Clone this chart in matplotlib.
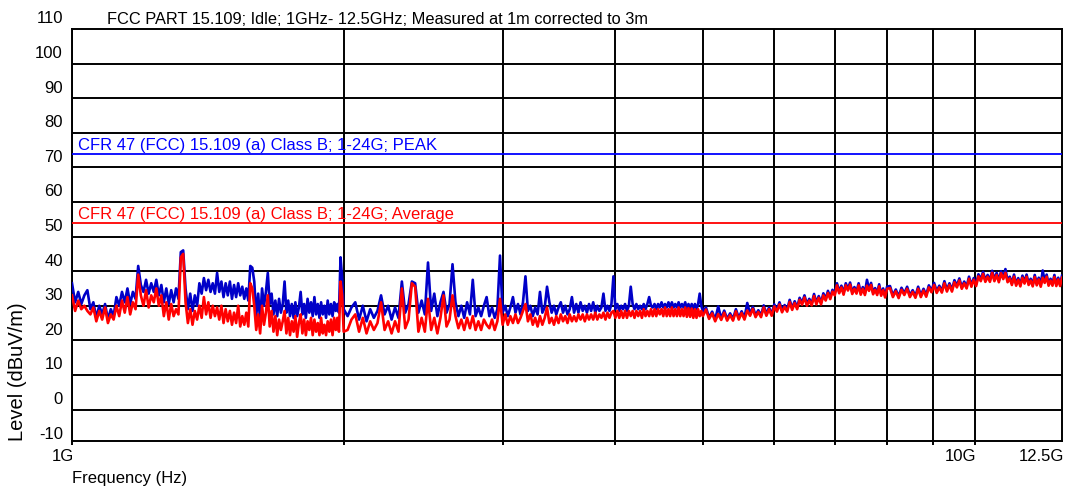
import matplotlib.pyplot as plt
import matplotlib.transforms as mtransforms
import numpy as np

plt.rcParams['font.family'] = ['Liberation Sans', 'DejaVu Sans']

# sweep 1 - 2 GHz, MHz
freq_a = [1000, 1008, 1016, 1024, 1032, 1040, 1048, 1056, 1064, 1072,
          1080, 1088, 1096, 1104, 1112, 1120, 1128, 1136, 1144, 1152,
          1160, 1168, 1176, 1184, 1192, 1200, 1208, 1216, 1224, 1232,
          1240, 1248, 1256, 1264, 1272, 1280, 1288, 1296, 1304, 1312,
          1320, 1328, 1336, 1344, 1352, 1360, 1368, 1376, 1384, 1392,
          1400, 1408, 1416, 1424, 1432, 1440, 1448, 1456, 1464, 1472,
          1480, 1488, 1496, 1504, 1512, 1520, 1528, 1536, 1544, 1552,
          1560, 1568, 1576, 1584, 1592, 1600, 1608, 1616, 1624, 1632,
          1640, 1648, 1656, 1664, 1672, 1680, 1688, 1696, 1704, 1712,
          1720, 1728, 1736, 1744, 1752, 1760, 1768, 1776, 1784, 1792,
          1800, 1808, 1816, 1824, 1832, 1840, 1848, 1856, 1864, 1872,
          1880, 1888, 1896, 1904, 1912, 1920, 1928, 1936, 1944, 1952,
          1960, 1968, 1976, 1984, 1992, 2000]
peak_a = [36.5, 31, 34, 30.5, 33, 34.5, 29, 31, 26.5, 30,
          27.5, 30.5, 26, 29, 27, 32.5, 30, 34, 31, 35,
          30.5, 34, 32, 41.5, 36, 34, 37.5, 33.5, 36.5, 34,
          37.5, 33, 36, 31, 35, 30.5, 34.5, 31, 35, 32,
          45.5, 46, 35, 29, 33.5, 28.5, 33, 30, 36.5, 33.5,
          38, 34.5, 37.5, 34, 36.5, 33.5, 39.5, 34, 37, 32.5,
          36.5, 33, 37, 32, 36, 32.5, 36.5, 33, 35.5, 32,
          35, 31.5, 41.5, 41, 37, 27, 33.5, 25.5, 35, 30,
          34, 39.5, 30.5, 33.5, 27.5, 31.5, 27, 32, 28, 30.5,
          37, 28, 31.5, 27, 30.5, 26.5, 31, 27, 29.5, 34,
          27.5, 30.5, 26.5, 32, 28, 31, 27, 32.5, 27.5, 30.5,
          26.5, 31, 27.5, 30, 26.5, 31.5, 27.5, 30.5, 27, 31,
          28.5, 30.5, 28, 44, 38, 29]
avg_a = [33, 28.5, 31.5, 29, 30, 28.5, 27.5, 29.5, 25.5, 28.5,
         26, 29.5, 25, 27.5, 26, 30, 27, 31.5, 28, 32.5,
         27.5, 31, 29, 39, 33, 30, 34.5, 29.5, 33, 31,
         35, 30, 33, 27, 31, 26, 30.5, 27, 29, 27.5,
         44, 45, 31, 25, 29, 24.5, 28.5, 26, 30, 26.5,
         32.5, 27.5, 31, 26.5, 30, 27, 29.5, 26, 30, 25,
         29, 25.5, 28.5, 24.5, 28, 25, 30, 24, 27, 24.5,
         28, 24, 36.5, 35, 30, 23, 27.5, 22, 30, 24.5,
         28, 33, 24, 28.5, 22.5, 27, 21.5, 26, 23, 25.5,
         28.5, 22, 26.5, 21.5, 25.5, 22.5, 27, 21, 25, 27.5,
         22, 26, 21.5, 25.5, 23, 26.5, 21.5, 26, 22.5, 25,
         21.5, 26.5, 22, 24.5, 21.5, 25.5, 22.5, 26, 21.5, 26.5,
         23, 26.5, 22.5, 37, 33, 22.5]

# sweep 2 - 5 GHz, MHz
freq_b = [2020, 2040, 2060, 2080, 2100, 2120, 2140, 2160, 2180, 2200,
          2220, 2240, 2260, 2280, 2300, 2320, 2340, 2360, 2380, 2400,
          2420, 2440, 2460, 2480, 2500, 2520, 2540, 2560, 2580, 2600,
          2620, 2640, 2660, 2680, 2700, 2720, 2740, 2760, 2780, 2800,
          2820, 2840, 2860, 2880, 2900, 2920, 2940, 2960, 2980, 3000,
          3020, 3040, 3060, 3080, 3100, 3120, 3140, 3160, 3180, 3200,
          3220, 3240, 3260, 3280, 3300, 3320, 3340, 3360, 3380, 3400,
          3420, 3440, 3460, 3480, 3500, 3520, 3540, 3560, 3580, 3600,
          3620, 3640, 3660, 3680, 3700, 3720, 3740, 3760, 3780, 3800,
          3820, 3840, 3860, 3880, 3900, 3920, 3940, 3960, 3980, 4000,
          4020, 4040, 4060, 4080, 4100, 4120, 4140, 4160, 4180, 4200,
          4220, 4240, 4260, 4280, 4300, 4320, 4340, 4360, 4380, 4400,
          4420, 4440, 4460, 4480, 4500, 4520, 4540, 4560, 4580, 4600,
          4620, 4640, 4660, 4680, 4700, 4720, 4740, 4760, 4780, 4800,
          4820, 4840, 4860, 4880, 4900, 4920, 4940, 4960, 4980, 5000]
peak_b = [27, 29.5, 31, 26, 30, 25.5, 29, 26.5, 28.5, 33,
          27.5, 30, 26, 29.5, 26.5, 37, 28, 30.5, 37, 36.5,
          28, 31.5, 27.5, 42.5, 28.5, 33.5, 27, 31, 34, 28,
          30.5, 42, 31, 27, 30, 26.5, 31, 27.5, 37.5, 27,
          29.5, 27, 30, 32.5, 27, 29.5, 26.5, 29, 44.5, 28,
          30, 27, 29.5, 32.5, 28, 30.5, 27.5, 31, 38.5, 28.5,
          30, 27, 29.5, 27.5, 34, 28, 29.5, 35.5, 31, 28,
          30, 27.5, 29.5, 31, 28, 30, 27.5, 29, 32.5, 28,
          30.5, 28, 31, 28.5, 30, 28, 30.5, 28.5, 31, 28,
          30, 28.5, 29.5, 33.5, 28.5, 30, 28.5, 30.5, 38.5, 29,
          30.5, 28.5, 30, 29, 30.5, 28.5, 30, 35.5, 30.5, 29,
          30.5, 29, 30, 29, 30.5, 29, 30.5, 32.5, 30, 29.5,
          30.5, 29, 30.5, 29.5, 31, 29.5, 30.5, 29.5, 31, 29.5,
          31, 29.5, 30.5, 29.5, 31, 29.5, 30.5, 29.5, 31, 29,
          30.5, 29, 30.5, 29, 30.5, 29, 30.5, 33.5, 30, 28.5]
avg_b = [23, 26, 27.5, 22.5, 26.5, 22, 25.5, 23, 25, 31,
         23, 25.5, 22, 25.5, 22.5, 35, 23.5, 26, 36.5, 35.5,
         22.5, 26.5, 22.5, 32, 23, 26.5, 22, 26.5, 33, 24,
         26, 33, 27, 23.5, 26, 23, 26.5, 23.5, 27, 23,
         25.5, 23, 26, 24.5, 23.5, 26, 23, 25.5, 32, 24.5,
         27.5, 24.5, 27, 25, 27.5, 25, 26.5, 28.5, 30.5, 25.5,
         27.5, 24.5, 26.5, 24, 27, 24.5, 26.5, 29.5, 25, 26.5,
         24.5, 27, 25, 27.5, 25.5, 27, 25, 27.5, 25.5, 27,
         25.5, 27.5, 26, 27.5, 25.5, 27.5, 26, 27.5, 26, 28,
         26, 27.5, 26.5, 28, 26, 28, 26.5, 28, 28.5, 26.5,
         28.5, 26.5, 28.5, 26.5, 28.5, 26.5, 28.5, 27, 28.5, 26.5,
         28.5, 27, 28.5, 26.5, 29, 27, 28.5, 27, 29, 27,
         29, 27, 29, 27.5, 29, 27, 29.5, 27, 29, 27,
         29.5, 27, 29, 27, 29.5, 27, 29, 27, 29.5, 26.8,
         29.3, 26.8, 29.2, 26.5, 29, 26.5, 29, 27, 28.5, 27]

# sweep 5 - 8 GHz, MHz
freq_c = [5040, 5080, 5120, 5160, 5200, 5240, 5280, 5320, 5360, 5400,
          5440, 5480, 5520, 5560, 5600, 5640, 5680, 5720, 5760, 5800,
          5840, 5880, 5920, 5960, 6000, 6040, 6080, 6120, 6160, 6200,
          6240, 6280, 6320, 6360, 6400, 6440, 6480, 6520, 6560, 6600,
          6640, 6680, 6720, 6760, 6800, 6840, 6880, 6920, 6960, 7000,
          7040, 7080, 7120, 7160, 7200, 7240, 7280, 7320, 7360, 7400,
          7440, 7480, 7520, 7560, 7600, 7640, 7680, 7720, 7760, 7800,
          7840, 7880, 7920, 7960, 8000]
peak_c = [29.5, 26.6, 28.3, 26.0, 29.8, 26.3, 28.6, 26.2, 27.8, 26.2,
          29.0, 26.5, 28.4, 26.5, 30.8, 27.6, 29.7, 27.2, 28.7, 27.2,
          30.1, 27.6, 29.5, 27.6, 30.4, 28.8, 31.0, 28.6, 30.2, 28.8,
          31.7, 29.3, 31.3, 29.5, 32.3, 30.8, 33.0, 30.5, 32.0, 30.6,
          33.4, 30.9, 32.8, 30.9, 33.6, 32.0, 34.3, 32.4, 34.6, 33.5,
          36.5, 34.1, 35.8, 33.7, 36.5, 34.9, 36.7, 33.9, 35.4, 34.0,
          36.5, 33.7, 35.4, 33.6, 37.5, 34.8, 36.6, 33.8, 35.1, 33.6,
          36.2, 33.4, 35.0, 32.9, 35.5]
avg_c = [28.9, 26.2, 27.8, 25.5, 27.6, 25.9, 28.0, 25.7, 27.3, 25.7,
         28.4, 26.0, 27.9, 26.0, 28.6, 27.1, 29.1, 26.7, 28.2, 26.7,
         29.5, 27.1, 29.0, 27.1, 29.8, 28.3, 30.4, 28.1, 29.7, 28.3,
         31.1, 28.8, 30.8, 29.0, 31.7, 30.3, 32.4, 30.0, 31.5, 30.1,
         32.8, 30.4, 32.3, 30.4, 33.0, 31.5, 33.7, 31.9, 34.1, 33.0,
         35.9, 33.6, 35.3, 33.2, 35.9, 34.4, 36.1, 33.4, 34.9, 33.5,
         35.9, 33.2, 34.9, 33.1, 35.8, 34.3, 36.0, 33.3, 34.6, 33.1,
         35.6, 32.9, 34.5, 32.4, 34.9]

# sweep 8 - 12.5 GHz, MHz
freq_d = [8060, 8120, 8180, 8240, 8300, 8360, 8420, 8480, 8540, 8600,
          8660, 8720, 8780, 8840, 8900, 8960, 9020, 9080, 9140, 9200,
          9260, 9320, 9380, 9440, 9500, 9560, 9620, 9680, 9740, 9800,
          9860, 9920, 9980, 10040, 10100, 10160, 10220, 10280, 10340, 10400,
          10460, 10520, 10580, 10640, 10700, 10760, 10820, 10880, 10940, 11000,
          11060, 11120, 11180, 11240, 11300, 11360, 11420, 11480, 11540, 11600,
          11660, 11720, 11780, 11840, 11900, 11960, 12020, 12080, 12140, 12200,
          12260, 12320, 12380, 12440, 12500]
peak_d = [35.7, 33.0, 34.7, 32.7, 35.2, 33.6, 35.5, 33.0, 34.5, 32.8,
          35.5, 33.0, 34.9, 33.1, 35.9, 34.4, 36.6, 34.2, 35.8, 34.3,
          37.1, 34.6, 36.5, 34.6, 37.4, 35.8, 37.9, 35.4, 37.0, 35.5,
          38.4, 36.0, 38.0, 36.2, 39.1, 37.6, 39.8, 37.4, 38.9, 37.4,
          40.1, 37.6, 39.5, 37.3, 40.0, 38.2, 40.6, 37.3, 38.4, 36.5,
          39.0, 36.3, 38.0, 36.1, 38.7, 36.9, 39.0, 36.5, 37.8, 36.1,
          38.9, 36.4, 38.1, 36.0, 40.2, 37.1, 39.0, 36.3, 37.8, 36.3,
          38.9, 36.2, 38.1, 36.2, 38.7]
avg_d = [35.1, 32.5, 34.2, 32.2, 34.6, 33.1, 34.9, 32.5, 34.0, 32.3,
         34.9, 32.5, 34.4, 32.6, 35.3, 33.9, 36.0, 33.7, 35.3, 33.8,
         36.5, 34.1, 36.0, 34.1, 36.8, 35.3, 37.3, 34.9, 36.5, 35.0,
         37.8, 35.5, 37.5, 35.7, 38.5, 37.1, 39.2, 36.9, 38.4, 36.9,
         39.5, 37.1, 38.9, 36.8, 39.4, 37.7, 39.5, 36.8, 37.9, 36.0,
         38.4, 35.8, 37.5, 35.6, 38.1, 36.4, 38.4, 36.0, 37.3, 35.6,
         38.3, 35.9, 37.6, 35.5, 38.1, 36.6, 38.4, 35.8, 37.3, 35.8,
         38.3, 35.7, 37.6, 35.7, 38.1]

limit_peak = 74
limit_avg = 54
y_labels = [110, 100, 90, 80, 70, 60, 50, 40, 30, 20, 10, 0, -10]

freq_hz = np.array(freq_a + freq_b + freq_c + freq_d) * 1e6
peak = np.array(peak_a + peak_b + peak_c + peak_d)
avg = np.array(avg_a + avg_b + avg_c + avg_d)

FS = 12
W, H = 1075, 490
fig = plt.figure(figsize=(W / 100, H / 100), dpi=100)
ax = fig.add_axes([72 / W, 49 / H, 990 / W, 412 / H])
ax.set_xscale('log')
ax.set_xlim(1e9, 12.5e9)
ax.set_ylim(-9.1, 110)

# grid: every 10 dB, every GHz up to 10G
ax.set_yticks(range(0, 110, 10))
ax.set_xticks([k * 1e9 for k in range(1, 11)])
ax.xaxis.set_minor_locator(plt.NullLocator())
ax.tick_params(axis='y', length=0, labelleft=False)
ax.tick_params(axis='x', direction='out', length=3, width=1.4,
               labelbottom=False)
ax.grid(True, color='black', lw=1.4)
for s in ax.spines.values():
    s.set_linewidth(1.4)

# limit lines
ax.axhline(limit_peak, color='#0000ff', lw=1.3, zorder=3)
ax.axhline(limit_avg, color='#ff0000', lw=1.3, zorder=3)
lim_tr = mtransforms.offset_copy(
    mtransforms.blended_transform_factory(ax.transAxes, ax.transData),
    fig=fig, x=6, y=1, units='dots')
ax.text(0, limit_peak, 'CFR 47 (FCC) 15.109 (a) Class B; 1-24G; PEAK',
        color='#0000ff', fontsize=FS, va='bottom', ha='left', transform=lim_tr)
ax.text(0, limit_avg, 'CFR 47 (FCC) 15.109 (a) Class B; 1-24G; Average',
        color='#ff0000', fontsize=FS, va='bottom', ha='left', transform=lim_tr)

# measured traces, average drawn over peak
ax.plot(freq_hz, peak, color='#0000c8', lw=1.9, zorder=4)
ax.plot(freq_hz, avg, color='#ff0000', lw=1.9, zorder=5)

# y labels sit a little above their grid lines
ylab_tr = mtransforms.offset_copy(
    mtransforms.blended_transform_factory(ax.transAxes, ax.transData),
    fig=fig, x=-9, y=10, units='dots')
for v in y_labels:
    ax.text(0, v, str(v), ha='right', va='center', fontsize=FS,
            transform=ylab_tr, clip_on=False)

xlab_tr = mtransforms.offset_copy(
    mtransforms.blended_transform_factory(ax.transData, ax.transAxes),
    fig=fig, x=2, y=-15, units='dots')
for f, s in [(1e9, '1G'), (1e10, '10G'), (1.25e10, '12.5G')]:
    ax.text(f, 0, s, ha='right', va='center', fontsize=FS,
            transform=xlab_tr, clip_on=False)

fig.text(107 / W, 1 - 19 / H,
         'FCC PART 15.109; Idle; 1GHz- 12.5GHz; Measured at 1m corrected to 3m',
         ha='left', va='center', fontsize=11.8)
fig.text(72 / W, 1 - 478 / H, 'Frequency (Hz)', ha='left', va='center',
         fontsize=FS)
fig.text(18 / W, 1 - 441 / H, 'Level (dBuV/m)', rotation=90, ha='center',
         va='bottom', fontsize=14.5)

fig.savefig('out.png', dpi=100)
